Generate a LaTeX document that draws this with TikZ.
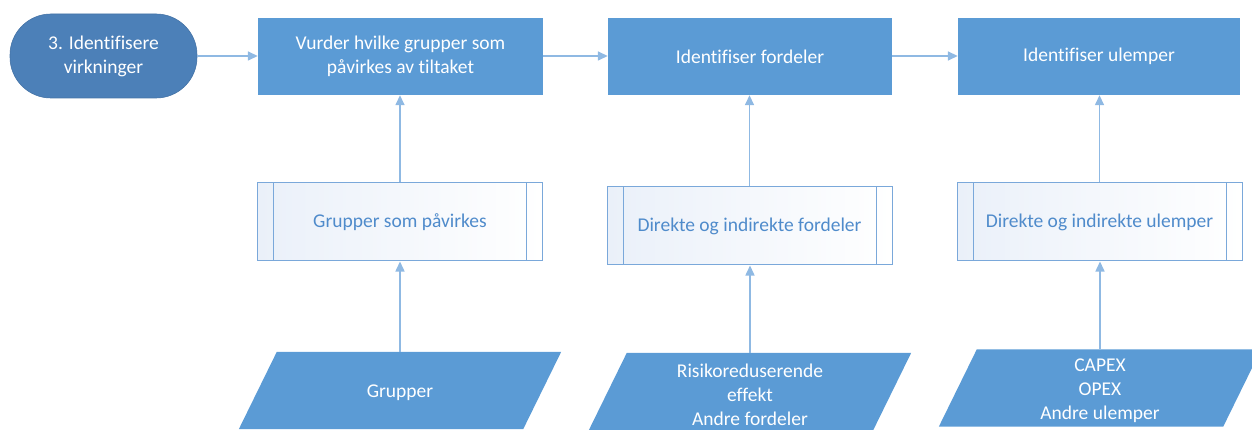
\documentclass[tikz,border=0pt]{standalone}
\usepackage{fontspec}
\setmainfont{Carlito}[Ligatures=CommonOff]
\usetikzlibrary{arrows.meta,calc,backgrounds}

\definecolor{procblue}{HTML}{5B9BD5}
\definecolor{termblue}{HTML}{4C80B8}
\definecolor{linkblue}{HTML}{8FB9E3}
\definecolor{subline}{HTML}{7AA8DA}
\definecolor{subtext}{HTML}{4F8BCB}
\definecolor{subfill}{HTML}{EAF0F9}

\tikzset{
  txt/.style={font=\fontsize{19.5}{24}\selectfont, align=center, inner sep=0pt},
  term/.style={txt, text=white, fill=termblue, draw=termblue!90!black, line width=0.6pt,
    rounded corners=41pt, minimum width=187pt, minimum height=84pt},
  proc/.style={txt, text=white, fill=procblue, minimum height=77pt},
  subproc/.style={txt, text=subtext, draw=subline, line width=1pt,
    left color=subfill, right color=white, minimum height=78pt, minimum width=285pt,
    path picture={
      \draw[subline, line width=1pt]
        ([xshift=16pt]path picture bounding box.north west) -- ([xshift=16pt]path picture bounding box.south west)
        ([xshift=-16pt]path picture bounding box.north east) -- ([xshift=-16pt]path picture bounding box.south east);
    }},
  datain/.style={minimum width=284pt, minimum height=77pt, inner sep=0pt},
  datatext/.style={txt, text=white},
  link/.style={draw=linkblue, line width=1.5pt, -{Triangle[length=10pt,width=9pt]}},
}

% parallelogram behind a data node
\newcommand{\slantbox}[1]{%
  \begin{scope}[on background layer]
    \fill[procblue] ($(#1.north west)+(19pt,0)$) -- ($(#1.north east)+(19pt,0)$)
      -- ($(#1.south east)+(-19pt,0)$) -- ($(#1.south west)+(-19pt,0)$) -- cycle;
  \end{scope}}

\begin{document}
\begin{tikzpicture}[x=1pt, y=-1pt]
  \useasboundingbox (0,0) rectangle (1252,430);
  \clip (0,0) rectangle (1252,430);

  % top row
  \node[term] (start) at (103.5,56) {3. Identifisere\\virkninger};
  \node[proc, minimum width=285pt] (vurder) at (400.5,56.5) {Vurder hvilke grupper som\\påvirkes av tiltaket};
  \node[proc, minimum width=284pt] (fordel) at (750,56.5) {Identifiser fordeler};
  \node[proc, minimum width=282pt] (ulemp) at (1099,56.5) {Identifiser ulemper};

  % predefined processes
  \node[subproc] (grpsub) at (400,222) {Grupper som påvirkes};
  \node[subproc] (fordsub) at (749.5,226) {Direkte og indirekte fordeler};
  \node[subproc] (ulsub) at (1099.5,222) {Direkte og indirekte ulemper};

  % inputs
  \node[datain] (grp) at (400,390.5) {};
  \node[datain] (risk) at (750,391.5) {};
  \node[datain] (cost) at (1100,388) {};
  \slantbox{grp}
  \slantbox{risk}
  \slantbox{cost}
  \node[datatext] (grptxt) at ($(grp.center)+(0,2)$) {Grupper};
  \node[datatext] (risktxt) at ($(risk.center)+(0,3)$) {Risikoreduserende\\effekt\\Andre fordeler};
  \node[datatext] (costtxt) at ($(cost.center)+(0,3)$) {CAPEX\\OPEX\\Andre ulemper};

  % connectors
  \draw[link] (start.east) -- (start.east -| vurder.west);
  \draw[link] (vurder.east |- start.east) -- (fordel.west |- start.east);
  \draw[link] (fordel.east |- start.east) -- (ulemp.west |- start.east);

  \draw[link] (grpsub.north) -- (grpsub.north |- vurder.south);
  \draw[link] (grp.north) -- (grp.north |- grpsub.south);
  \draw[link] (fordsub.north) -- (fordsub.north |- fordel.south);
  \draw[link] (risk.north) -- (risk.north |- fordsub.south);
  \draw[link] (ulsub.north) -- (ulsub.north |- ulemp.south);
  \draw[link] (cost.north) -- (cost.north |- ulsub.south);
\end{tikzpicture}
\end{document}
